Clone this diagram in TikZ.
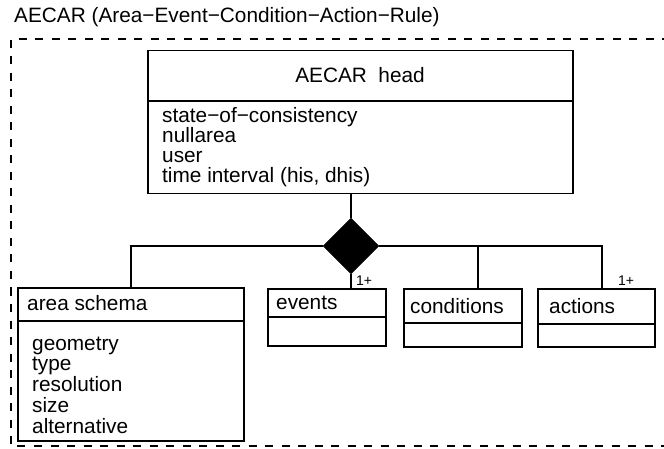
\documentclass[tikz,border=0pt]{standalone}
\usepackage{fontspec}
\setmainfont{Liberation Sans}
\usetikzlibrary{shapes.geometric}
\tikzset{
  umlbox/.style={draw, line width=1.5pt, inner sep=0pt, anchor=north west},
  txt/.style={anchor=base west, inner sep=0pt, font=\fontsize{20.8}{20}\selectfont},
  mult/.style={anchor=base west, inner sep=0pt, font=\fontsize{14}{14}\selectfont},
  link/.style={line width=1.5pt},
}
\begin{document}
\begin{tikzpicture}[x=1pt,y=-1pt]
    \useasboundingbox (0,0) rectangle (664,449);
    \node[txt] (title) at (14,23) {AECAR (Area−Event−Condition−Action−Rule)};
    \draw[line width=1.3pt, dash pattern=on 8pt off 8.5pt] (670,39) -- (11,39) -- (11,446) -- (670,446);

    % head class
    \node[umlbox, minimum width=425pt, minimum height=143pt] (head) at (147,50) {};
    \draw[link] (head.west |- 0,101) -- (head.east |- 0,101);
    \node[txt, anchor=base] (headname) at (360,83) {AECAR\ \ head};
    \foreach \t [count=\i] in {state−of−consistency, nullarea, user, {time interval (his, dhis)}}
        \node[txt] (hattr\i) at (162,103+20*\i) {\t};

    % aggregation
    \node[diamond, draw, fill, inner sep=0pt, minimum width=56pt, minimum height=56pt] (agg) at (351,246) {};
    \draw[link] (agg.north |- head.south) -- (agg.north);

    % parts
    \node[umlbox, minimum width=226pt, minimum height=153pt] (area) at (17,287) {};
    \draw[link] (area.west |- 0,321) -- (area.east |- 0,321);
    \node[txt] (areaname) at (27,310) {area schema};
    \foreach \t [count=\i] in {geometry, type, resolution, size, alternative}
        \node[txt] (aattr\i) at (32,329.25+20.75*\i) {\t};

    \node[umlbox, minimum width=118pt, minimum height=57pt] (events) at (267,288) {};
    \draw[link] (events.west |- 0,317) -- (events.east |- 0,317);
    \node[txt] (eventsname) at (276,309) {events};

    \node[umlbox, minimum width=118pt, minimum height=58pt] (cond) at (403,288) {};
    \draw[link] (cond.west |- 0,323) -- (cond.east |- 0,323);
    \node[txt] (condname) at (410,313) {conditions};

    \node[umlbox, minimum width=117pt, minimum height=58pt] (act) at (537,288) {};
    \draw[link] (act.west |- 0,324) -- (act.east |- 0,324);
    \node[txt] (actname) at (549,313) {actions};

    % connectors
    \coordinate (condtop) at (478,288);
    \coordinate (acttop) at (602,288);
    \draw[link] (agg.west) -| (area.north);
    \draw[link] (agg.south) -- (agg.south |- events.north);
    \draw[link] (agg.east) -| (acttop);
    \draw[link] (condtop |- agg.east) -- (condtop);

    \node[mult] (evmult) at (356,285) {1+};
    \node[mult] (actmult) at (618,285) {1+};
\end{tikzpicture}
\end{document}
